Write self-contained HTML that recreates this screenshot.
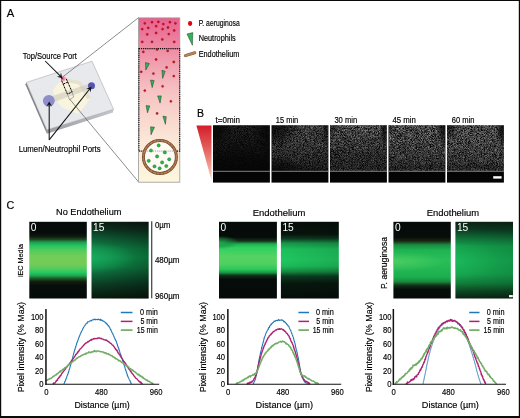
<!DOCTYPE html>
<html><head><meta charset="utf-8"><title>Figure</title>
<style>
html,body{margin:0;padding:0;background:#fff;}
body{width:520px;height:418px;overflow:hidden;position:relative;font-family:"Liberation Sans",sans-serif;}
svg{position:absolute;left:0;top:0;display:block;will-change:transform;}
svg text{font-family:"Liberation Sans",sans-serif;}
</style></head><body>
<svg width="520" height="418" viewBox="0 0 520 418">
<defs>
<linearGradient id="sb" x1="0" y1="0" x2="1" y2="0"><stop offset="0" stop-color="#9b9da2"/><stop offset="1" stop-color="#c4c6ca"/></linearGradient>
<radialGradient id="pk" cx="0.4" cy="0.45" r="0.6"><stop offset="0" stop-color="#e8507c"/><stop offset="0.5" stop-color="#f28ca8"/><stop offset="1" stop-color="#f9c4d2" stop-opacity="0.6"/></radialGradient>
<linearGradient id="colg" x1="0" y1="0" x2="0" y2="1"><stop offset="0" stop-color="#e9608f"/><stop offset="0.2" stop-color="#ee8fa6"/><stop offset="0.45" stop-color="#f6c3c3"/><stop offset="0.75" stop-color="#fbe8d8"/><stop offset="1" stop-color="#fdf6dc"/></linearGradient>
<linearGradient id="trg" x1="0" y1="0" x2="0" y2="1"><stop offset="0" stop-color="#d31d2b"/><stop offset="0.45" stop-color="#e5655f"/><stop offset="0.8" stop-color="#f3aaa0"/><stop offset="1" stop-color="#fbdad3"/></linearGradient>
<filter id="spk" x="0" y="0" width="100%" height="100%" color-interpolation-filters="sRGB"><feTurbulence type="fractalNoise" baseFrequency="1.37" numOctaves="2" seed="11" result="n"/><feColorMatrix type="matrix" values="0 0 0 0 1  0 0 0 0 1  0 0 0 0 1  1.3 0 0 0 -0.32"/><feGaussianBlur stdDeviation="0.4"/></filter>
<linearGradient id="bg0" x1="0" y1="0" x2="0" y2="1"><stop offset="0" stop-color="#fff" stop-opacity="0.26"/><stop offset="0.35" stop-color="#fff" stop-opacity="0.18"/><stop offset="0.7" stop-color="#fff" stop-opacity="0.07"/><stop offset="1" stop-color="#fff" stop-opacity="0.03"/></linearGradient>
<radialGradient id="bb0_0"><stop offset="0" stop-color="#000" stop-opacity="0.8"/><stop offset="0.5" stop-color="#000" stop-opacity="0.56"/><stop offset="1" stop-color="#000" stop-opacity="0"/></radialGradient>
<radialGradient id="bb0_1"><stop offset="0" stop-color="#000" stop-opacity="0.7"/><stop offset="0.5" stop-color="#000" stop-opacity="0.49"/><stop offset="1" stop-color="#000" stop-opacity="0"/></radialGradient>
<linearGradient id="bg1" x1="0" y1="0" x2="0" y2="1"><stop offset="0" stop-color="#fff" stop-opacity="0.62"/><stop offset="0.4" stop-color="#fff" stop-opacity="0.55"/><stop offset="0.8" stop-color="#fff" stop-opacity="0.36"/><stop offset="1" stop-color="#fff" stop-opacity="0.22"/></linearGradient>
<radialGradient id="bb1_0"><stop offset="0" stop-color="#000" stop-opacity="0.85"/><stop offset="0.5" stop-color="#000" stop-opacity="0.59"/><stop offset="1" stop-color="#000" stop-opacity="0"/></radialGradient>
<radialGradient id="bb1_1"><stop offset="0" stop-color="#000" stop-opacity="0.7"/><stop offset="0.5" stop-color="#000" stop-opacity="0.49"/><stop offset="1" stop-color="#000" stop-opacity="0"/></radialGradient>
<radialGradient id="bb1_2"><stop offset="0" stop-color="#000" stop-opacity="0.7"/><stop offset="0.5" stop-color="#000" stop-opacity="0.49"/><stop offset="1" stop-color="#000" stop-opacity="0"/></radialGradient>
<linearGradient id="bg2" x1="0" y1="0" x2="0" y2="1"><stop offset="0" stop-color="#fff" stop-opacity="0.82"/><stop offset="0.35" stop-color="#fff" stop-opacity="0.62"/><stop offset="0.7" stop-color="#fff" stop-opacity="0.42"/><stop offset="0.93" stop-color="#fff" stop-opacity="0.36"/><stop offset="1" stop-color="#fff" stop-opacity="0.42"/></linearGradient>
<radialGradient id="bb2_0"><stop offset="0" stop-color="#000" stop-opacity="0.5"/><stop offset="0.5" stop-color="#000" stop-opacity="0.35"/><stop offset="1" stop-color="#000" stop-opacity="0"/></radialGradient>
<radialGradient id="bb2_1"><stop offset="0" stop-color="#000" stop-opacity="0.75"/><stop offset="0.5" stop-color="#000" stop-opacity="0.52"/><stop offset="1" stop-color="#000" stop-opacity="0"/></radialGradient>
<linearGradient id="bg3" x1="0" y1="0" x2="0" y2="1"><stop offset="0" stop-color="#fff" stop-opacity="0.8"/><stop offset="0.4" stop-color="#fff" stop-opacity="0.68"/><stop offset="0.8" stop-color="#fff" stop-opacity="0.5"/><stop offset="0.94" stop-color="#fff" stop-opacity="0.34"/><stop offset="1" stop-color="#fff" stop-opacity="0.55"/></linearGradient>
<radialGradient id="bb3_0"><stop offset="0" stop-color="#000" stop-opacity="0.85"/><stop offset="0.5" stop-color="#000" stop-opacity="0.59"/><stop offset="1" stop-color="#000" stop-opacity="0"/></radialGradient>
<radialGradient id="bb3_1"><stop offset="0" stop-color="#000" stop-opacity="0.4"/><stop offset="0.5" stop-color="#000" stop-opacity="0.28"/><stop offset="1" stop-color="#000" stop-opacity="0"/></radialGradient>
<linearGradient id="bg4" x1="0" y1="0" x2="0" y2="1"><stop offset="0" stop-color="#fff" stop-opacity="0.8"/><stop offset="0.4" stop-color="#fff" stop-opacity="0.72"/><stop offset="0.8" stop-color="#fff" stop-opacity="0.54"/><stop offset="0.94" stop-color="#fff" stop-opacity="0.36"/><stop offset="1" stop-color="#fff" stop-opacity="0.6"/></linearGradient>
<radialGradient id="bb4_0"><stop offset="0" stop-color="#000" stop-opacity="0.85"/><stop offset="0.5" stop-color="#000" stop-opacity="0.59"/><stop offset="1" stop-color="#000" stop-opacity="0"/></radialGradient>
<radialGradient id="bb4_1"><stop offset="0" stop-color="#000" stop-opacity="0.6"/><stop offset="0.5" stop-color="#000" stop-opacity="0.42"/><stop offset="1" stop-color="#000" stop-opacity="0"/></radialGradient>
<linearGradient id="c0" x1="0" y1="0" x2="0" y2="1"><stop offset="0" stop-color="#040b09"/><stop offset="0.14" stop-color="#050c0a"/><stop offset="0.19" stop-color="#10180e"/><stop offset="0.23" stop-color="#1a4a22"/><stop offset="0.265" stop-color="#1f9a4c"/><stop offset="0.31" stop-color="#22c462"/><stop offset="0.36" stop-color="#4ccb5c"/><stop offset="0.44" stop-color="#70cd58"/><stop offset="0.55" stop-color="#74cc56"/><stop offset="0.61" stop-color="#52cc5c"/><stop offset="0.66" stop-color="#26c862"/><stop offset="0.7" stop-color="#1fa850"/><stop offset="0.74" stop-color="#1c5a26"/><stop offset="0.78" stop-color="#121c0e"/><stop offset="0.83" stop-color="#060e0a"/><stop offset="1" stop-color="#040b09"/></linearGradient>
<linearGradient id="c1" x1="0" y1="0" x2="0" y2="1"><stop offset="0" stop-color="#0b1e12"/><stop offset="0.1" stop-color="#0d3420"/><stop offset="0.22" stop-color="#0f5e36"/><stop offset="0.35" stop-color="#108c4a"/><stop offset="0.47" stop-color="#119c50"/><stop offset="0.58" stop-color="#0f8a48"/><stop offset="0.7" stop-color="#0e6238"/><stop offset="0.82" stop-color="#0c3e24"/><stop offset="0.92" stop-color="#0a2816"/><stop offset="1" stop-color="#081a0c"/></linearGradient>
<linearGradient id="c2" x1="0" y1="0" x2="0" y2="1"><stop offset="0" stop-color="#040b09"/><stop offset="0.2" stop-color="#050c09"/><stop offset="0.25" stop-color="#16301a"/><stop offset="0.29" stop-color="#1fb050"/><stop offset="0.34" stop-color="#2fd060"/><stop offset="0.45" stop-color="#55d262"/><stop offset="0.55" stop-color="#50d060"/><stop offset="0.62" stop-color="#28c858"/><stop offset="0.66" stop-color="#1a9a44"/><stop offset="0.7" stop-color="#10301a"/><stop offset="0.75" stop-color="#050c09"/><stop offset="1" stop-color="#040b09"/></linearGradient>
<linearGradient id="c3" x1="0" y1="0" x2="0" y2="1"><stop offset="0" stop-color="#050e09"/><stop offset="0.16" stop-color="#07140c"/><stop offset="0.22" stop-color="#0d3a20"/><stop offset="0.28" stop-color="#169648"/><stop offset="0.36" stop-color="#1dc05c"/><stop offset="0.5" stop-color="#20c660"/><stop offset="0.58" stop-color="#1cba58"/><stop offset="0.65" stop-color="#148a40"/><stop offset="0.71" stop-color="#0b3c20"/><stop offset="0.8" stop-color="#07180e"/><stop offset="1" stop-color="#040d08"/></linearGradient>
<linearGradient id="c4" x1="0" y1="0" x2="0" y2="1"><stop offset="0" stop-color="#040b09"/><stop offset="0.2" stop-color="#060d0a"/><stop offset="0.25" stop-color="#1a2812"/><stop offset="0.3" stop-color="#1a8a40"/><stop offset="0.37" stop-color="#1eb452"/><stop offset="0.5" stop-color="#2abe58"/><stop offset="0.6" stop-color="#24b854"/><stop offset="0.72" stop-color="#1cae4e"/><stop offset="0.78" stop-color="#188a3e"/><stop offset="0.83" stop-color="#142e18"/><stop offset="0.88" stop-color="#060e0a"/><stop offset="1" stop-color="#040b09"/></linearGradient>
<linearGradient id="c5" x1="0" y1="0" x2="0" y2="1"><stop offset="0" stop-color="#0a2414"/><stop offset="0.1" stop-color="#0c3a20"/><stop offset="0.22" stop-color="#10743a"/><stop offset="0.32" stop-color="#14a04c"/><stop offset="0.5" stop-color="#16ae52"/><stop offset="0.68" stop-color="#15a44e"/><stop offset="0.8" stop-color="#11803c"/><stop offset="0.9" stop-color="#0c4a24"/><stop offset="1" stop-color="#092412"/></linearGradient>
<linearGradient id="dk" x1="0" y1="0" x2="1" y2="0"><stop offset="0" stop-color="#000" stop-opacity="0"/><stop offset="1" stop-color="#000" stop-opacity="0.32"/></linearGradient>
<radialGradient id="gl1" cx="0" cy="0" r="1" gradientTransform="translate(0.02 0.47) scale(0.75 0.2)"><stop offset="0" stop-color="#1cb868" stop-opacity="0.5"/><stop offset="1" stop-color="#20c070" stop-opacity="0"/></radialGradient>
<radialGradient id="gl3" cx="0" cy="0" r="1" gradientTransform="translate(0.0 0.27) scale(0.35 0.09)"><stop offset="0" stop-color="#20b050" stop-opacity="0.9"/><stop offset="0.6" stop-color="#1a9044" stop-opacity="0.5"/><stop offset="1" stop-color="#1a9044" stop-opacity="0"/></radialGradient>
<radialGradient id="gl5" cx="0" cy="0" r="1" gradientTransform="translate(0.0 0.52) scale(0.9 0.13)"><stop offset="0" stop-color="#58d468" stop-opacity="0.7"/><stop offset="1" stop-color="#58d468" stop-opacity="0"/></radialGradient>
<radialGradient id="gl6" cx="0" cy="0" r="1" gradientTransform="translate(0.05 0.52) scale(0.8 0.25)"><stop offset="0" stop-color="#20c060" stop-opacity="0.5"/><stop offset="1" stop-color="#20c060" stop-opacity="0"/></radialGradient>
</defs>
<rect x="0" y="0" width="520" height="418" fill="#fff"/>
<g id="A">
<text x="6.8" y="16.9" font-size="11.2" fill="#000" stroke="#000" stroke-width="0.16">A</text>
<polygon points="26.4,82.4 46.9,129.8 46.9,133.70000000000002 25.4,84.60000000000001" fill="#808287"/>
<polygon points="46.9,129.8 113.6,109.3 113.0,112.60000000000001 46.9,133.70000000000002" fill="url(#sb)"/>
<polygon points="26.4,82.4 92.0,61.2 113.6,109.3 46.9,129.8" fill="#e8e9ed" stroke="#9a9ca2" stroke-width="0.5"/>
<polygon points="52.7,90.6 58.5,82.9 66.8,78.6 80.2,80.9 86.3,89.8 91.0,97.6 83.5,107.7 77.9,114.0 61.3,107.1 54.6,98.1" fill="#f9f4dd"/>
<polygon points="66.8,78.6 80.2,80.9 86.3,89.8 91.0,97.6 87.2,99.6 83.0,91.5 78.5,84.3 66.5,82.0" fill="#dedacb" opacity="0.75"/>
<polygon points="51.0,96.6 91.0,82.9 92.2,88.2 52.4,102.6" fill="#cdcabd" opacity="0.6"/>
<circle cx="48.8" cy="100.8" r="5.9" fill="#8686c8" opacity="0.92"/>
<circle cx="91.5" cy="85.8" r="3.5" fill="#5656ae"/>
<ellipse cx="63.5" cy="78.9" rx="2.6" ry="2.8" fill="url(#pk)"/>
<circle cx="61.9" cy="78.5" r="0.9" fill="#7a1030"/>
<path d="M61.6,80.6 L67.4,94.1 L72.1,92.0 L66.2,78.6 M63.2,84.1 L67.9,82.0" fill="none" stroke="#000" stroke-width="1.0" stroke-dasharray="2.3,0.9"/>
<path d="M67.4,94.1 L69.5,99.6 L73.7,97.0 L72.1,92.0" fill="none" stroke="#666" stroke-width="0.5"/>
<line x1="62.4" y1="77.2" x2="138.6" y2="17.6" stroke="#666" stroke-width="0.75"/>
<line x1="69.5" y1="98.9" x2="138.6" y2="182.0" stroke="#666" stroke-width="0.75"/>
<line x1="45.2" y1="61.0" x2="60.42" y2="76.22" stroke="#111" stroke-width="1.05"/>
<polygon points="62.40,78.20 56.81,76.72 60.28,76.08 60.92,72.61" fill="#111"/>
<line x1="49.2" y1="139.8" x2="49.20" y2="104.40" stroke="#111" stroke-width="1.05"/>
<polygon points="49.20,101.60 52.10,106.60 49.20,104.60 46.30,106.60" fill="#111"/>
<line x1="49.2" y1="139.8" x2="89.66" y2="88.99" stroke="#111" stroke-width="1.05"/>
<polygon points="91.40,86.80 90.55,92.52 89.53,89.15 86.02,88.91" fill="#111"/>
<text x="22.7" y="58.8" font-size="8.8" textLength="54.2" lengthAdjust="spacingAndGlyphs" fill="#000" stroke="#000" stroke-width="0.16">Top/Source Port</text>
<text x="18.7" y="151.6" font-size="8.8" textLength="82.0" lengthAdjust="spacingAndGlyphs" fill="#000" stroke="#000" stroke-width="0.16">Lumen/Neutrophil Ports</text>
<rect x="138.6" y="17.9" width="41.2" height="164.3" fill="url(#colg)" stroke="#9a9a9a" stroke-width="0.8"/>
<rect x="138.9" y="48.6" width="40.8" height="102.5" fill="none" stroke="#000" stroke-width="1.05" stroke-dasharray="1.15,0.95"/>
<circle cx="144.8" cy="23.3" r="1.15" fill="#d0101c" stroke="#8a0a14" stroke-width="0.3"/>
<circle cx="152.0" cy="22.2" r="1.15" fill="#d0101c" stroke="#8a0a14" stroke-width="0.3"/>
<circle cx="158.3" cy="21.9" r="1.15" fill="#d0101c" stroke="#8a0a14" stroke-width="0.3"/>
<circle cx="163.3" cy="24.1" r="1.15" fill="#d0101c" stroke="#8a0a14" stroke-width="0.3"/>
<circle cx="169.9" cy="22.2" r="1.15" fill="#d0101c" stroke="#8a0a14" stroke-width="0.3"/>
<circle cx="175.4" cy="23.3" r="1.15" fill="#d0101c" stroke="#8a0a14" stroke-width="0.3"/>
<circle cx="142.2" cy="29.1" r="1.15" fill="#d0101c" stroke="#8a0a14" stroke-width="0.3"/>
<circle cx="148.2" cy="27.9" r="1.15" fill="#d0101c" stroke="#8a0a14" stroke-width="0.3"/>
<circle cx="156.1" cy="26.2" r="1.15" fill="#d0101c" stroke="#8a0a14" stroke-width="0.3"/>
<circle cx="162.6" cy="29.1" r="1.15" fill="#d0101c" stroke="#8a0a14" stroke-width="0.3"/>
<circle cx="168.0" cy="27.5" r="1.15" fill="#d0101c" stroke="#8a0a14" stroke-width="0.3"/>
<circle cx="174.2" cy="30.5" r="1.15" fill="#d0101c" stroke="#8a0a14" stroke-width="0.3"/>
<circle cx="147.2" cy="34.4" r="1.15" fill="#d0101c" stroke="#8a0a14" stroke-width="0.3"/>
<circle cx="156.1" cy="33.0" r="1.15" fill="#d0101c" stroke="#8a0a14" stroke-width="0.3"/>
<circle cx="168.8" cy="34.1" r="1.15" fill="#d0101c" stroke="#8a0a14" stroke-width="0.3"/>
<circle cx="142.2" cy="41.9" r="1.15" fill="#d0101c" stroke="#8a0a14" stroke-width="0.3"/>
<circle cx="152.0" cy="41.9" r="1.15" fill="#d0101c" stroke="#8a0a14" stroke-width="0.3"/>
<circle cx="162.3" cy="39.4" r="1.15" fill="#d0101c" stroke="#8a0a14" stroke-width="0.3"/>
<circle cx="174.2" cy="41.9" r="1.15" fill="#d0101c" stroke="#8a0a14" stroke-width="0.3"/>
<circle cx="143.3" cy="51.9" r="1.15" fill="#d0101c" stroke="#8a0a14" stroke-width="0.3"/>
<circle cx="157.1" cy="49.5" r="1.15" fill="#d0101c" stroke="#8a0a14" stroke-width="0.3"/>
<circle cx="167.7" cy="50.9" r="1.15" fill="#d0101c" stroke="#8a0a14" stroke-width="0.3"/>
<circle cx="156.1" cy="59.5" r="1.15" fill="#d0101c" stroke="#8a0a14" stroke-width="0.3"/>
<circle cx="173.8" cy="62.0" r="1.15" fill="#d0101c" stroke="#8a0a14" stroke-width="0.3"/>
<circle cx="166.6" cy="67.4" r="1.15" fill="#d0101c" stroke="#8a0a14" stroke-width="0.3"/>
<circle cx="141.2" cy="71.8" r="1.15" fill="#d0101c" stroke="#8a0a14" stroke-width="0.3"/>
<circle cx="153.4" cy="73.6" r="1.15" fill="#d0101c" stroke="#8a0a14" stroke-width="0.3"/>
<circle cx="173.8" cy="76.1" r="1.15" fill="#d0101c" stroke="#8a0a14" stroke-width="0.3"/>
<circle cx="162.6" cy="86.3" r="1.15" fill="#d0101c" stroke="#8a0a14" stroke-width="0.3"/>
<circle cx="144.8" cy="90.6" r="1.15" fill="#d0101c" stroke="#8a0a14" stroke-width="0.3"/>
<circle cx="170.9" cy="101.3" r="1.15" fill="#d0101c" stroke="#8a0a14" stroke-width="0.3"/>
<circle cx="157.1" cy="113.4" r="1.15" fill="#d0101c" stroke="#8a0a14" stroke-width="0.3"/>
<polygon points="145.5,62.6 149.4,63.6 145.8,70.0" fill="#2fb457" stroke="#1c3a24" stroke-width="0.5" stroke-linejoin="round"/>
<polygon points="161.9,70.3 165.2,71.2 162.7,78.4" fill="#2fb457" stroke="#1c3a24" stroke-width="0.5" stroke-linejoin="round"/>
<polygon points="150.5,80.1 154.1,80.5 152.2,87.6" fill="#2fb457" stroke="#1c3a24" stroke-width="0.5" stroke-linejoin="round"/>
<polygon points="157.6,95.9 161.3,95.9 160.1,103.1" fill="#2fb457" stroke="#1c3a24" stroke-width="0.5" stroke-linejoin="round"/>
<polygon points="146.1,105.6 149.8,105.9 147.5,112.8" fill="#2fb457" stroke="#1c3a24" stroke-width="0.5" stroke-linejoin="round"/>
<polygon points="162.9,116.1 166.3,116.7 165.4,124.3" fill="#2fb457" stroke="#1c3a24" stroke-width="0.5" stroke-linejoin="round"/>
<polygon points="150.6,126.8 154.5,127.2 151.0,134.8" fill="#2fb457" stroke="#1c3a24" stroke-width="0.5" stroke-linejoin="round"/>
<circle cx="159.9" cy="157.0" r="16.5" fill="#fdfbf4" stroke="#74482a" stroke-width="3.0"/>
<circle cx="159.9" cy="157.0" r="16.5" fill="none" stroke="#b37d54" stroke-width="1.7" stroke-dasharray="3.2,0.5"/>
<line x1="144.5" y1="151.1" x2="175.2" y2="151.1" stroke="#999" stroke-width="0.9" stroke-dasharray="1.15,0.95"/>
<circle cx="158.7" cy="145.4" r="1.6" fill="#27b944" stroke="#1c6a2c" stroke-width="0.45"/>
<circle cx="151" cy="150.5" r="1.6" fill="#27b944" stroke="#1c6a2c" stroke-width="0.45"/>
<circle cx="164.8" cy="152.4" r="1.6" fill="#27b944" stroke="#1c6a2c" stroke-width="0.45"/>
<circle cx="157.1" cy="156.4" r="1.6" fill="#27b944" stroke="#1c6a2c" stroke-width="0.45"/>
<circle cx="148.7" cy="160.8" r="1.6" fill="#27b944" stroke="#1c6a2c" stroke-width="0.45"/>
<circle cx="169.2" cy="159.3" r="1.6" fill="#27b944" stroke="#1c6a2c" stroke-width="0.45"/>
<circle cx="162.1" cy="162.4" r="1.6" fill="#27b944" stroke="#1c6a2c" stroke-width="0.45"/>
<circle cx="154.5" cy="166.4" r="1.6" fill="#27b944" stroke="#1c6a2c" stroke-width="0.45"/>
<circle cx="166.3" cy="166" r="1.6" fill="#27b944" stroke="#1c6a2c" stroke-width="0.45"/>
<circle cx="159.6" cy="168.3" r="1.6" fill="#27b944" stroke="#1c6a2c" stroke-width="0.45"/>
<ellipse cx="190.1" cy="23.5" rx="2.1" ry="2.45" fill="#e3000f"/>
<polygon points="187.0,34.0 192.8,32.6 192.4,45.3" fill="#2fb457" stroke="#1c3a24" stroke-width="0.5" stroke-linejoin="round"/>
<line x1="185.4" y1="55.6" x2="194.8" y2="52.7" stroke="#8a5a34" stroke-width="3.0" stroke-linecap="round"/>
<line x1="185.4" y1="55.6" x2="194.8" y2="52.7" stroke="#b98458" stroke-width="2.0" stroke-linecap="round"/>
<text x="198.7" y="25.9" font-size="8.6" textLength="41.0" lengthAdjust="spacingAndGlyphs" fill="#000" stroke="#000" stroke-width="0.16">P. aeruginosa</text>
<text x="198.7" y="41.2" font-size="8.6" textLength="37.0" lengthAdjust="spacingAndGlyphs" fill="#000" stroke="#000" stroke-width="0.16">Neutrophils</text>
<text x="198.7" y="56.7" font-size="8.6" textLength="40.6" lengthAdjust="spacingAndGlyphs" fill="#000" stroke="#000" stroke-width="0.16">Endothelium</text>
</g>
<g id="B">
<text x="197.0" y="117.4" font-size="10.5" fill="#000" stroke="#000" stroke-width="0.16">B</text>
<polygon points="196.4,125.4 211.5,125.4 211.5,180.6" fill="url(#trg)"/>
<rect x="213.00" y="125.2" width="56.9" height="57.4" fill="#040404"/>
<mask id="bm0" maskUnits="userSpaceOnUse" x="213.00" y="125.2" width="56.9" height="45.6"><rect x="213.00" y="125.2" width="56.9" height="45.6" fill="url(#bg0)"/><ellipse cx="213.0" cy="125.2" rx="19.9" ry="22.8" fill="url(#bb0_0)"/><ellipse cx="269.9" cy="129.8" rx="17.1" ry="27.4" fill="url(#bb0_1)"/></mask>
<g mask="url(#bm0)"><rect x="213.00" y="125.2" width="56.9" height="45.6" filter="url(#spk)"/></g>
<line x1="213.00" y1="171.3" x2="269.90" y2="171.3" stroke="#b8b8b8" stroke-width="0.7"/>
<text x="215.5" y="123.0" font-size="8.4" textLength="24.4" lengthAdjust="spacingAndGlyphs" fill="#000" stroke="#000" stroke-width="0.16">t=0min</text>
<rect x="271.50" y="125.2" width="56.9" height="57.4" fill="#040404"/>
<mask id="bm1" maskUnits="userSpaceOnUse" x="271.50" y="125.2" width="56.9" height="45.6"><rect x="271.50" y="125.2" width="56.9" height="45.6" fill="url(#bg1)"/><ellipse cx="271.5" cy="125.2" rx="28.4" ry="25.1" fill="url(#bb1_0)"/><ellipse cx="271.5" cy="170.8" rx="34.1" ry="16.0" fill="url(#bb1_1)"/><ellipse cx="326.1" cy="127.5" rx="4.0" ry="20.5" fill="url(#bb1_2)"/></mask>
<g mask="url(#bm1)"><rect x="271.50" y="125.2" width="56.9" height="45.6" filter="url(#spk)"/></g>
<line x1="271.50" y1="171.3" x2="328.40" y2="171.3" stroke="#b8b8b8" stroke-width="0.7"/>
<text x="275.8" y="123.0" font-size="8.4" textLength="22.4" lengthAdjust="spacingAndGlyphs" fill="#000" stroke="#000" stroke-width="0.16">15 min</text>
<rect x="330.00" y="125.2" width="56.9" height="57.4" fill="#040404"/>
<mask id="bm2" maskUnits="userSpaceOnUse" x="330.00" y="125.2" width="56.9" height="45.6"><rect x="330.00" y="125.2" width="56.9" height="45.6" fill="url(#bg2)"/><ellipse cx="330.0" cy="125.2" rx="11.4" ry="16.0" fill="url(#bb2_0)"/><ellipse cx="384.1" cy="127.5" rx="4.0" ry="22.8" fill="url(#bb2_1)"/></mask>
<g mask="url(#bm2)"><rect x="330.00" y="125.2" width="56.9" height="45.6" filter="url(#spk)"/></g>
<line x1="330.00" y1="171.3" x2="386.90" y2="171.3" stroke="#b8b8b8" stroke-width="0.7"/>
<text x="334.4" y="123.0" font-size="8.4" textLength="22.8" lengthAdjust="spacingAndGlyphs" fill="#000" stroke="#000" stroke-width="0.16">30 min</text>
<rect x="388.50" y="125.2" width="56.9" height="57.4" fill="#040404"/>
<mask id="bm3" maskUnits="userSpaceOnUse" x="388.50" y="125.2" width="56.9" height="45.6"><rect x="388.50" y="125.2" width="56.9" height="45.6" fill="url(#bg3)"/><ellipse cx="445.4" cy="125.2" rx="9.1" ry="25.1" fill="url(#bb3_0)"/><ellipse cx="388.5" cy="125.2" rx="6.8" ry="13.7" fill="url(#bb3_1)"/></mask>
<g mask="url(#bm3)"><rect x="388.50" y="125.2" width="56.9" height="45.6" filter="url(#spk)"/></g>
<line x1="388.50" y1="171.3" x2="445.40" y2="171.3" stroke="#b8b8b8" stroke-width="0.7"/>
<text x="392.4" y="123.0" font-size="8.4" textLength="23.4" lengthAdjust="spacingAndGlyphs" fill="#000" stroke="#000" stroke-width="0.16">45 min</text>
<rect x="447.00" y="125.2" width="56.9" height="57.4" fill="#040404"/>
<mask id="bm4" maskUnits="userSpaceOnUse" x="447.00" y="125.2" width="56.9" height="45.6"><rect x="447.00" y="125.2" width="56.9" height="45.6" fill="url(#bg4)"/><ellipse cx="503.9" cy="125.2" rx="9.1" ry="25.1" fill="url(#bb4_0)"/><ellipse cx="447.0" cy="125.2" rx="11.4" ry="18.2" fill="url(#bb4_1)"/></mask>
<g mask="url(#bm4)"><rect x="447.00" y="125.2" width="56.9" height="45.6" filter="url(#spk)"/></g>
<line x1="447.00" y1="171.3" x2="503.90" y2="171.3" stroke="#b8b8b8" stroke-width="0.7"/>
<text x="451.8" y="123.0" font-size="8.4" textLength="22.8" lengthAdjust="spacingAndGlyphs" fill="#000" stroke="#000" stroke-width="0.16">60 min</text>
<rect x="493.2" y="176.2" width="8.4" height="2.4" fill="#fff"/>
</g>
<g id="C">
<text x="6.6" y="209.0" font-size="10.8" fill="#000" stroke="#000" stroke-width="0.16">C</text>
<rect x="29.3" y="221.8" width="57.5" height="76.7" fill="url(#c0)"/>
<rect x="91.5" y="221.8" width="57.1" height="76.7" fill="url(#c1)"/>
<rect x="219.0" y="221.8" width="57.9" height="76.7" fill="url(#c2)"/>
<rect x="280.9" y="221.8" width="57.9" height="76.7" fill="url(#c3)"/>
<rect x="393.4" y="221.8" width="57.4" height="76.7" fill="url(#c4)"/>
<rect x="455.4" y="221.8" width="57.6" height="76.7" fill="url(#c5)"/>
<rect x="91.5" y="221.8" width="57.1" height="76.7" fill="url(#dk)"/>
<rect x="91.5" y="221.8" width="57.1" height="76.7" fill="url(#gl1)"/>
<rect x="219.0" y="221.8" width="57.9" height="76.7" fill="url(#gl3)"/>
<rect x="393.4" y="221.8" width="57.4" height="76.7" fill="url(#gl5)"/>
<rect x="455.4" y="221.8" width="57.6" height="76.7" fill="url(#gl6)"/>
<rect x="455.4" y="221.8" width="57.6" height="76.7" fill="url(#dk)" opacity="0.4"/>
<rect x="280.9" y="221.8" width="57.9" height="76.7" fill="url(#dk)" opacity="0.35"/>
<text x="30.8" y="231.1" font-size="10.2" fill="#fff">0</text>
<text x="93.0" y="231.1" font-size="10.2" fill="#fff">15</text>
<text x="220.5" y="231.1" font-size="10.2" fill="#fff">0</text>
<text x="282.4" y="231.1" font-size="10.2" fill="#fff">15</text>
<text x="394.9" y="231.1" font-size="10.2" fill="#fff">0</text>
<text x="456.9" y="231.1" font-size="10.2" fill="#fff">15</text>
<line x1="151.7" y1="221.3" x2="151.7" y2="298.2" stroke="#4a4a4a" stroke-width="1.3"/>
<text x="154.9" y="227.8" font-size="8.3" textLength="15.4" lengthAdjust="spacingAndGlyphs" fill="#000" stroke="#000" stroke-width="0.16">0µm</text>
<text x="154.9" y="263.4" font-size="8.3" textLength="24.6" lengthAdjust="spacingAndGlyphs" fill="#000" stroke="#000" stroke-width="0.16">480µm</text>
<text x="154.9" y="298.8" font-size="8.3" textLength="24.6" lengthAdjust="spacingAndGlyphs" fill="#000" stroke="#000" stroke-width="0.16">960µm</text>
<text x="56.0" y="215.2" font-size="9.2" textLength="65.4" lengthAdjust="spacingAndGlyphs" fill="#000" stroke="#000" stroke-width="0.16">No Endothelium</text>
<text x="252.7" y="215.9" font-size="9.3" textLength="52.6" lengthAdjust="spacingAndGlyphs" fill="#000" stroke="#000" stroke-width="0.16">Endothelium</text>
<text x="426.8" y="215.9" font-size="9.3" textLength="52.3" lengthAdjust="spacingAndGlyphs" fill="#000" stroke="#000" stroke-width="0.16">Endothelium</text>
<text x="23.1" y="260.5" font-size="7.4" text-anchor="middle" textLength="33.2" lengthAdjust="spacingAndGlyphs" transform="rotate(-90 23.1 260.5)" fill="#000" stroke="#000" stroke-width="0.16">iEC Media</text>
<text x="387.2" y="263.0" font-size="9.2" text-anchor="middle" textLength="52" lengthAdjust="spacingAndGlyphs" transform="rotate(-90 387.2 263.0)" fill="#000" stroke="#000" stroke-width="0.16">P. aeruginosa</text>
<rect x="509.0" y="295.1" width="3.8" height="2.1" fill="#fff"/>
</g>
<g>
<path d="M64.0,383.7L64.1,383.4L64.2,383.3L64.4,382.9L64.5,382.5L64.6,382.0L64.8,381.8L65.0,381.8L65.1,381.2L65.3,380.9L65.5,380.2L65.7,379.8L65.9,379.3L66.1,378.3L66.3,378.5L66.5,377.9L66.7,377.4L66.9,376.3L67.1,375.8L67.3,375.5L67.5,375.1L67.6,374.8L67.8,374.3L67.9,374.1L68.0,373.4L68.2,373.2L68.3,372.8L68.4,372.1L68.6,372.3L68.7,371.5L68.8,371.3L69.0,370.4L69.1,369.9L69.2,369.6L69.4,369.2L69.5,368.9L69.6,368.3L69.8,367.7L69.9,367.1L70.0,366.8L70.2,366.7L70.3,365.8L70.4,365.6L70.6,365.1L70.7,364.2L70.8,364.1L71.0,364.0L71.1,362.7L71.2,362.6L71.4,362.2L71.5,361.6L71.6,361.5L71.7,361.0L71.9,360.2L72.0,360.3L72.1,359.8L72.2,359.4L72.3,359.1L72.5,358.4L72.6,357.9L72.7,357.1L72.8,357.1L72.9,356.3L73.1,355.9L73.2,355.2L73.3,354.9L73.4,354.5L73.5,354.5L73.7,353.2L73.8,352.9L73.9,352.9L74.0,352.8L74.1,352.1L74.3,351.1L74.4,350.5L74.5,350.8L74.6,350.1L74.7,349.6L74.9,349.7L75.0,349.3L75.1,348.6L75.3,348.1L75.4,347.7L75.6,347.5L75.7,346.8L75.9,346.3L76.0,345.9L76.2,344.9L76.3,345.2L76.4,344.7L76.6,344.1L76.7,343.1L76.9,343.0L77.0,342.9L77.2,341.8L77.3,341.8L77.5,341.7L77.6,340.7L77.7,341.0L77.9,340.4L78.0,339.8L78.2,339.5L78.3,339.2L78.5,338.7L78.6,338.5L78.8,337.5L79.0,337.1L79.2,337.0L79.4,336.3L79.5,335.7L79.7,335.7L79.9,335.4L80.1,334.5L80.3,333.8L80.4,333.7L80.6,333.3L80.8,332.8L81.0,332.9L81.2,331.9L81.3,332.0L81.5,331.0L81.7,330.8L81.9,330.8L82.1,330.5L82.3,330.0L82.5,329.4L82.8,328.9L83.0,328.4L83.3,328.1L83.5,327.5L83.8,327.2L84.0,326.8L84.2,326.3L84.5,326.1L84.7,325.7L85.0,325.7L85.2,324.9L85.4,324.4L85.7,324.1L86.0,323.8L86.4,323.7L86.8,323.0L87.1,322.9L87.5,323.0L87.8,321.6L88.2,321.7L88.6,321.8L88.9,321.7L89.3,321.4L89.7,321.0L90.2,321.0L90.6,320.7L91.0,320.3L91.4,320.9L91.9,320.3L92.4,319.9L92.9,319.9L93.3,319.8L93.8,319.7L94.2,319.0L94.7,319.4L95.2,319.8L95.7,319.2L96.2,319.4L96.7,319.6L97.2,319.6L97.7,319.8L98.1,319.0L98.6,319.4L99.0,319.5L99.5,319.8L99.9,320.1L100.4,319.2L100.8,320.3L101.3,319.8L101.7,320.5L102.1,320.1L102.5,320.7L103.0,321.1L103.4,321.0L103.8,321.3L104.2,321.7L104.6,321.8L104.9,322.0L105.3,322.7L105.7,322.9L106.1,323.0L106.4,324.0L106.7,323.3L106.9,324.2L107.2,324.2L107.5,324.6L107.8,325.1L108.0,325.4L108.3,325.9L108.6,325.7L108.9,326.1L109.2,327.1L109.4,327.1L109.7,327.6L109.9,327.8L110.1,328.9L110.3,329.1L110.6,329.7L110.8,329.5L111.0,330.2L111.2,330.3L111.4,331.2L111.6,331.8L111.8,331.7L112.0,332.7L112.3,333.0L112.5,333.2L112.7,333.2L112.9,334.5L113.1,334.6L113.3,334.9L113.5,335.5L113.7,335.9L113.9,336.6L114.0,336.4L114.2,337.3L114.4,337.8L114.6,338.2L114.8,338.2L114.9,338.4L115.1,339.3L115.3,339.5L115.5,339.9L115.7,340.6L115.8,340.7L116.0,340.6L116.2,341.5L116.4,341.6L116.6,342.7L116.7,343.1L116.9,343.3L117.1,343.8L117.2,344.5L117.4,344.7L117.5,345.4L117.6,345.5L117.8,346.2L117.9,346.7L118.1,347.1L118.2,347.0L118.4,347.8L118.5,347.6L118.7,348.2L118.8,348.5L118.9,349.7L119.1,349.5L119.2,350.3L119.4,350.7L119.5,351.2L119.7,351.5L119.8,352.1L120.0,353.0L120.1,353.0L120.2,353.5L120.4,354.1L120.5,354.2L120.7,354.4L120.8,355.0L121.0,355.8L121.1,355.6L121.3,356.3L121.4,357.1L121.5,357.5L121.7,357.7L121.8,358.4L122.0,358.6L122.1,358.7L122.3,359.1L122.4,359.7L122.5,360.6L122.7,360.6L122.8,361.0L123.0,361.4L123.1,361.7L123.3,362.5L123.4,362.6L123.6,363.5L123.7,363.2L123.8,364.3L124.0,364.5L124.1,364.6L124.3,365.7L124.4,365.9L124.6,365.9L124.7,366.6L124.9,367.4L125.0,367.6L125.1,368.4L125.3,368.9L125.4,369.3L125.6,369.7L125.7,370.4L125.9,370.6L126.0,371.0L126.2,370.8L126.3,372.0L126.4,372.6L126.6,372.6L126.7,373.0L126.9,374.0L127.0,373.5L127.2,374.5L127.3,375.4L127.5,374.9L127.6,375.7L127.7,376.4L127.9,376.4L128.1,377.0L128.3,377.6L128.6,377.7L128.8,378.4L129.0,378.9L129.2,379.5L129.4,379.8L129.7,380.2L129.9,380.4L130.1,381.0L130.3,381.8L130.5,381.9L130.7,382.1L130.8,382.4L131.0,383.6L131.1,383.5L131.2,383.6L131.3,383.7" fill="none" stroke="#2277b8" stroke-width="1.1" stroke-linejoin="round" stroke-linecap="round"/>
<path d="M53.2,383.7L53.5,382.9L53.9,383.5L54.4,383.1L54.9,383.0L55.4,382.3L55.6,381.9L55.9,381.7L56.2,380.8L56.4,381.2L56.7,380.7L57.0,380.0L57.3,380.2L57.6,379.9L57.9,378.6L58.3,378.4L58.5,378.3L58.8,377.9L59.0,377.4L59.3,376.9L59.6,377.3L59.8,376.7L60.1,375.8L60.4,375.3L60.7,375.7L61.0,375.1L61.2,374.9L61.5,374.3L61.8,373.4L62.1,373.3L62.4,372.4L62.6,372.4L62.9,372.2L63.2,372.0L63.4,371.3L63.7,371.1L63.9,370.9L64.2,370.5L64.5,370.2L64.8,369.8L65.0,369.3L65.3,369.2L65.6,368.6L65.9,368.0L66.2,367.7L66.4,367.5L66.7,367.1L67.0,366.9L67.3,366.5L67.5,366.2L67.8,365.8L68.1,365.1L68.4,365.2L68.7,365.0L69.0,364.5L69.2,364.0L69.5,363.8L69.8,363.1L70.1,362.5L70.4,362.6L70.7,362.0L71.0,362.1L71.2,361.2L71.5,360.5L71.8,360.5L72.0,360.8L72.3,359.9L72.5,359.3L72.8,359.1L73.0,359.0L73.3,358.6L73.5,358.1L73.8,358.1L74.0,357.5L74.3,356.9L74.5,356.7L74.8,356.5L75.0,356.0L75.3,355.6L75.6,354.7L75.8,354.6L76.1,354.5L76.3,353.8L76.6,353.8L76.9,353.3L77.2,353.0L77.5,352.3L77.8,352.7L78.0,352.0L78.3,351.2L78.6,351.0L78.9,351.2L79.2,350.2L79.5,350.1L79.7,349.8L80.0,349.2L80.3,348.6L80.6,348.6L80.9,348.4L81.2,348.2L81.5,347.8L81.8,347.2L82.1,347.1L82.5,346.7L82.8,346.2L83.1,345.9L83.4,345.5L83.8,345.4L84.1,344.6L84.4,344.4L84.7,344.3L85.0,343.6L85.4,343.6L85.7,343.0L86.1,343.0L86.5,343.0L86.9,342.7L87.3,342.2L87.7,341.9L88.1,341.3L88.5,341.9L88.9,341.3L89.3,341.3L89.7,340.5L90.1,340.5L90.5,339.9L90.9,340.3L91.4,340.2L91.8,339.3L92.3,339.6L92.7,339.6L93.2,338.8L93.6,338.7L94.1,338.7L94.5,338.7L94.9,338.4L95.3,338.7L95.8,338.6L96.3,338.6L96.7,338.5L97.2,338.6L97.6,338.5L98.0,337.8L98.5,338.0L98.9,337.9L99.3,337.9L99.8,338.3L100.2,338.4L100.6,338.6L101.1,338.2L101.5,338.5L102.0,339.0L102.5,339.1L102.9,339.2L103.3,339.4L103.7,339.4L104.2,339.9L104.6,339.9L105.1,340.0L105.5,340.0L106.0,340.3L106.4,339.9L106.9,340.6L107.3,341.1L107.7,340.9L108.0,341.5L108.4,341.8L108.8,341.6L109.2,342.1L109.5,342.4L109.9,342.9L110.3,343.2L110.6,343.3L111.0,343.4L111.4,343.9L111.7,344.3L112.1,344.8L112.4,345.0L112.7,345.1L113.0,345.2L113.2,345.8L113.5,346.0L113.8,346.3L114.1,346.9L114.4,347.1L114.7,347.7L114.9,348.1L115.2,348.3L115.5,349.3L115.8,349.0L116.1,349.8L116.4,349.9L116.6,350.6L116.9,350.1L117.2,350.8L117.4,351.4L117.7,351.9L117.9,352.7L118.2,352.6L118.4,353.2L118.7,353.4L118.9,353.9L119.2,354.1L119.5,354.4L119.7,354.9L120.0,354.9L120.2,355.9L120.5,355.7L120.7,356.4L121.0,357.3L121.2,357.1L121.5,357.5L121.7,358.2L122.0,358.3L122.2,358.4L122.5,359.1L122.7,359.5L123.0,360.0L123.2,360.0L123.5,361.0L123.8,361.3L124.0,361.3L124.3,361.7L124.5,362.0L124.8,362.8L125.0,362.6L125.3,363.4L125.5,363.5L125.8,363.8L126.0,364.5L126.3,365.1L126.5,365.1L126.8,365.3L127.0,366.1L127.3,366.2L127.6,366.7L127.8,367.4L128.1,367.7L128.3,367.7L128.6,368.8L128.8,368.6L129.1,369.2L129.3,369.2L129.6,369.7L129.8,369.7L130.1,370.9L130.3,371.2L130.6,370.9L130.8,371.2L131.1,371.6L131.3,372.6L131.6,372.6L131.9,373.1L132.2,373.4L132.5,373.8L132.7,373.9L133.0,374.5L133.3,374.5L133.5,375.2L133.8,375.7L134.1,376.1L134.4,376.2L134.7,376.4L134.9,377.0L135.2,377.2L135.5,378.0L135.8,378.2L136.2,378.3L136.5,378.5L136.8,378.8L137.2,379.1L137.6,379.7L138.0,380.2L138.4,380.6L138.8,381.0L139.3,381.7L139.7,381.4L140.1,381.9L140.4,382.9L140.8,382.1L141.1,382.7L141.4,383.1L141.7,383.4L142.0,383.6L142.2,383.7" fill="none" stroke="#ad2170" stroke-width="1.35" stroke-linejoin="round" stroke-linecap="round"/>
<path d="M46.0,380.7L46.3,380.5L46.6,380.5L46.9,380.3L47.4,380.3L47.8,379.4L48.3,379.5L48.8,379.4L49.3,378.9L49.8,378.6L50.3,378.8L50.8,378.2L51.2,378.3L51.5,378.1L51.9,377.7L52.2,377.5L52.6,377.1L52.9,376.5L53.3,376.6L53.7,376.4L54.0,375.9L54.4,375.7L54.8,375.7L55.2,375.0L55.6,375.0L56.0,375.1L56.4,374.2L56.8,374.0L57.2,373.7L57.5,373.9L57.9,373.3L58.3,373.2L58.6,372.5L59.0,372.4L59.4,372.1L59.8,371.4L60.2,372.0L60.6,371.5L60.9,370.6L61.3,370.9L61.7,370.4L62.1,370.3L62.5,370.0L62.9,369.2L63.3,369.2L63.7,369.4L64.0,368.6L64.4,368.2L64.8,367.8L65.1,367.5L65.5,367.6L65.8,367.7L66.2,367.0L66.6,366.7L66.9,366.9L67.3,365.9L67.6,365.5L68.0,365.5L68.4,365.2L68.7,364.5L69.1,364.2L69.4,364.2L69.8,363.9L70.2,363.2L70.5,363.2L70.9,362.8L71.2,362.8L71.6,362.4L72.0,362.1L72.4,361.7L72.8,361.8L73.1,361.6L73.5,360.8L73.9,360.8L74.3,360.2L74.7,360.1L75.0,360.0L75.4,359.9L75.8,359.1L76.2,358.9L76.6,358.7L76.9,358.0L77.3,358.2L77.7,357.7L78.1,357.7L78.5,357.1L78.9,356.7L79.3,356.9L79.7,356.7L80.1,356.3L80.5,356.4L80.9,355.9L81.3,355.6L81.7,355.6L82.1,354.9L82.6,354.9L83.0,354.8L83.4,354.8L83.8,354.4L84.2,354.3L84.5,353.9L84.9,354.0L85.3,354.1L85.7,353.4L86.2,353.9L86.7,353.0L87.1,353.0L87.6,352.9L88.1,353.0L88.5,352.3L89.0,351.9L89.4,352.5L89.9,352.4L90.3,352.3L90.8,352.7L91.2,352.0L91.7,351.9L92.1,352.0L92.6,351.8L93.1,352.0L93.5,351.2L94.0,351.3L94.5,350.5L94.9,351.5L95.4,351.2L95.8,351.4L96.3,351.7L96.8,351.1L97.2,351.1L97.7,351.0L98.2,351.0L98.6,351.1L99.1,351.4L99.5,351.4L100.0,351.4L100.5,351.5L100.9,351.8L101.4,351.8L101.9,351.8L102.3,352.1L102.8,352.0L103.2,351.9L103.7,352.7L104.1,352.6L104.5,352.4L105.0,353.0L105.4,353.0L105.8,352.7L106.2,353.6L106.6,353.4L107.1,353.8L107.5,353.8L107.9,353.9L108.3,353.7L108.8,354.5L109.2,354.5L109.7,354.7L110.1,355.0L110.5,355.2L110.8,355.5L111.2,355.5L111.6,355.8L112.0,355.5L112.4,356.2L112.8,356.7L113.2,357.1L113.7,356.9L114.1,357.2L114.5,357.9L114.9,357.7L115.3,358.2L115.7,358.7L116.1,358.6L116.5,359.1L116.9,358.9L117.3,359.4L117.7,359.5L118.1,359.8L118.4,360.3L118.8,360.9L119.2,360.4L119.6,360.6L120.0,361.2L120.3,361.0L120.7,361.7L121.1,361.9L121.5,362.0L121.9,362.4L122.2,362.2L122.6,363.0L123.0,362.7L123.4,363.2L123.8,363.5L124.1,363.8L124.5,364.4L124.9,364.4L125.2,364.6L125.6,365.1L125.9,365.6L126.3,365.5L126.7,365.9L127.0,366.4L127.4,366.4L127.7,366.3L128.1,367.5L128.5,367.7L128.8,367.0L129.2,367.7L129.5,368.1L129.9,368.6L130.3,368.8L130.6,368.8L131.0,368.9L131.3,369.4L131.7,370.0L132.1,369.7L132.5,370.0L132.9,370.6L133.2,370.4L133.6,371.1L134.0,371.3L134.4,371.8L134.8,371.8L135.1,372.0L135.5,372.4L135.9,372.8L136.3,372.9L136.7,373.4L137.0,373.8L137.4,374.2L137.8,374.6L138.2,374.2L138.6,374.6L138.9,374.4L139.3,375.7L139.7,375.3L140.1,375.8L140.5,376.2L140.8,375.9L141.2,376.7L141.6,376.8L142.0,376.6L142.4,377.4L142.7,377.9L143.1,377.3L143.5,378.3L143.9,378.4L144.3,378.7L144.6,378.9L145.0,379.4L145.4,379.2L145.8,379.7L146.2,379.7L146.6,380.2L147.1,380.1L147.5,380.5L148.0,381.3L148.4,381.2L148.9,381.3L149.4,381.4L149.8,381.7L150.3,382.2L150.7,382.6L151.1,382.7L151.5,383.0L151.9,383.1L152.2,383.6L152.5,383.3L152.8,383.4L153.0,383.7" fill="none" stroke="#70ad64" stroke-width="1.5" stroke-linejoin="round" stroke-linecap="round"/>
<line x1="45.95" y1="309.0" x2="45.95" y2="384.79999999999995" stroke="#111" stroke-width="1.5"/>
<line x1="45.2" y1="384.25" x2="159.2" y2="384.25" stroke="#111" stroke-width="1.15"/>
<text x="43.5" y="319.6" font-size="8.8" text-anchor="end" textLength="12.6" lengthAdjust="spacingAndGlyphs" fill="#000" stroke="#000" stroke-width="0.16">100</text>
<text x="43.5" y="333.15000000000003" font-size="8.8" text-anchor="end" textLength="8.5" lengthAdjust="spacingAndGlyphs" fill="#000" stroke="#000" stroke-width="0.16">80</text>
<text x="43.5" y="346.7" font-size="8.8" text-anchor="end" textLength="8.5" lengthAdjust="spacingAndGlyphs" fill="#000" stroke="#000" stroke-width="0.16">60</text>
<text x="43.5" y="360.25" font-size="8.8" text-anchor="end" textLength="8.5" lengthAdjust="spacingAndGlyphs" fill="#000" stroke="#000" stroke-width="0.16">40</text>
<text x="43.5" y="373.8" font-size="8.8" text-anchor="end" textLength="8.5" lengthAdjust="spacingAndGlyphs" fill="#000" stroke="#000" stroke-width="0.16">20</text>
<text x="43.5" y="387.3" font-size="8.8" text-anchor="end" textLength="4.3" lengthAdjust="spacingAndGlyphs" fill="#000" stroke="#000" stroke-width="0.16">0</text>
<text x="46.3" y="394.6" font-size="8.8" text-anchor="middle" textLength="4.3" lengthAdjust="spacingAndGlyphs" fill="#000" stroke="#000" stroke-width="0.16">0</text>
<text x="101.4" y="394.6" font-size="8.8" text-anchor="middle" textLength="12.8" lengthAdjust="spacingAndGlyphs" fill="#000" stroke="#000" stroke-width="0.16">480</text>
<text x="156.2" y="394.6" font-size="8.8" text-anchor="middle" textLength="12.8" lengthAdjust="spacingAndGlyphs" fill="#000" stroke="#000" stroke-width="0.16">960</text>
<text x="74.39999999999999" y="407.6" font-size="9.9" textLength="55.4" lengthAdjust="spacingAndGlyphs" fill="#000" stroke="#000" stroke-width="0.16">Distance (µm)</text>
<text x="23.7" y="347.1" font-size="9.7" text-anchor="middle" textLength="90.4" lengthAdjust="spacingAndGlyphs" transform="rotate(-90 23.7 347.1)" fill="#000" stroke="#000" stroke-width="0.16">Pixel intensity (% Max)</text>
<line x1="120.8" y1="312.5" x2="132.5" y2="312.5" stroke="#2277b8" stroke-width="1.5"/>
<text x="157.79999999999998" y="315.2" font-size="8.3" text-anchor="end" textLength="17.8" lengthAdjust="spacingAndGlyphs" fill="#000" stroke="#000" stroke-width="0.16">0 min</text>
<line x1="120.8" y1="321.4" x2="132.5" y2="321.4" stroke="#ad2170" stroke-width="1.5"/>
<text x="157.79999999999998" y="324.09999999999997" font-size="8.3" text-anchor="end" textLength="17.4" lengthAdjust="spacingAndGlyphs" fill="#000" stroke="#000" stroke-width="0.16">5 min</text>
<line x1="120.8" y1="330.1" x2="132.5" y2="330.1" stroke="#70ad64" stroke-width="1.7"/>
<text x="157.79999999999998" y="332.8" font-size="8.3" text-anchor="end" textLength="21.0" lengthAdjust="spacingAndGlyphs" fill="#000" stroke="#000" stroke-width="0.16">15 min</text>
</g>
<g>
<path d="M253.2,383.7L253.4,383.7L253.5,383.2L253.7,382.8L253.9,382.3L254.1,382.0L254.3,381.8L254.6,381.2L254.8,380.3L255.0,380.2L255.2,379.6L255.3,378.9L255.4,379.0L255.5,378.3L255.6,377.9L255.7,377.8L255.8,377.5L255.9,376.5L256.0,376.4L256.1,375.5L256.2,376.0L256.3,374.7L256.4,374.7L256.5,373.7L256.6,373.6L256.8,373.5L256.9,371.5L256.9,371.8L257.0,371.6L257.1,371.0L257.2,370.4L257.3,370.8L257.3,369.8L257.4,368.8L257.5,369.1L257.6,367.8L257.6,368.2L257.7,367.2L257.8,367.0L257.9,366.8L258.0,366.0L258.0,365.1L258.1,364.5L258.2,364.9L258.3,364.3L258.4,363.4L258.5,363.4L258.5,362.8L258.6,362.4L258.7,361.1L258.8,361.2L258.9,361.1L259.0,360.6L259.1,360.2L259.1,358.8L259.2,359.1L259.3,358.7L259.4,358.9L259.5,357.4L259.6,357.1L259.7,356.8L259.8,356.5L259.9,355.7L260.0,355.7L260.1,354.7L260.2,354.5L260.3,353.8L260.4,353.6L260.5,352.9L260.6,352.2L260.7,352.5L260.8,351.8L260.9,351.1L261.0,350.9L261.1,350.7L261.2,349.7L261.3,349.5L261.4,349.2L261.5,348.8L261.6,348.1L261.7,347.1L261.9,347.7L262.0,347.0L262.1,346.4L262.2,345.9L262.3,345.6L262.4,345.0L262.5,344.4L262.6,344.1L262.8,343.7L262.9,343.3L263.0,342.6L263.1,342.7L263.2,341.7L263.4,341.8L263.5,340.8L263.6,340.8L263.7,340.6L263.8,339.8L263.9,339.1L264.1,338.9L264.2,338.5L264.3,337.5L264.4,337.4L264.6,337.2L264.7,336.6L264.8,336.3L265.0,336.1L265.1,335.7L265.3,335.3L265.5,334.8L265.6,334.0L265.8,333.7L266.0,333.1L266.2,332.7L266.5,332.3L266.7,331.4L266.9,331.3L267.1,331.0L267.3,330.3L267.6,330.1L267.8,329.9L268.0,329.3L268.2,329.6L268.4,327.8L268.7,328.1L268.9,327.3L269.2,327.7L269.4,327.7L269.7,325.8L270.0,326.1L270.3,325.9L270.5,325.2L270.8,325.1L271.1,323.9L271.4,324.5L271.6,324.0L271.9,323.6L272.2,323.1L272.5,323.2L272.9,322.5L273.3,322.4L273.7,321.8L274.1,321.0L274.5,321.4L274.9,321.3L275.3,321.2L275.7,320.5L276.1,320.6L276.5,320.6L277.0,320.3L277.4,320.5L277.9,320.7L278.3,319.7L278.8,319.4L279.2,320.2L279.7,320.4L280.1,320.2L280.6,320.2L281.0,319.8L281.5,319.9L281.9,320.5L282.4,320.1L282.8,320.1L283.3,320.6L283.7,321.8L284.0,321.9L284.4,321.4L284.7,321.7L285.1,322.3L285.5,322.4L285.8,323.3L286.2,323.3L286.5,323.5L286.9,324.6L287.1,324.4L287.4,324.9L287.6,325.2L287.9,325.5L288.1,326.0L288.4,326.1L288.6,326.2L288.9,326.5L289.1,327.2L289.3,327.7L289.6,328.4L289.8,328.9L290.1,329.5L290.3,329.8L290.5,330.0L290.7,330.4L290.9,330.4L291.0,331.4L291.2,332.0L291.4,332.4L291.6,332.6L291.7,333.1L291.9,333.8L292.1,334.0L292.2,334.7L292.4,335.1L292.6,335.4L292.7,336.2L292.9,336.1L293.0,336.7L293.2,337.0L293.3,337.5L293.5,338.6L293.6,339.2L293.8,339.1L293.9,339.6L294.0,340.2L294.1,340.6L294.2,341.1L294.3,340.8L294.5,341.4L294.6,342.1L294.7,342.9L294.8,342.9L294.9,343.1L295.0,343.6L295.1,344.0L295.2,344.4L295.3,345.5L295.4,345.3L295.5,346.0L295.6,347.1L295.7,347.2L295.8,347.4L295.9,347.6L296.0,348.4L296.1,349.2L296.2,349.3L296.3,350.0L296.4,350.0L296.6,350.6L296.7,350.9L296.8,351.5L296.9,352.2L297.0,351.9L297.1,352.7L297.2,353.3L297.3,353.5L297.4,354.0L297.5,354.8L297.6,355.7L297.7,355.7L297.8,356.1L297.9,356.0L298.0,357.5L298.1,357.4L298.2,357.8L298.3,357.9L298.4,358.6L298.4,358.8L298.5,359.6L298.6,360.2L298.7,360.6L298.8,361.1L298.9,361.3L299.0,362.4L299.1,362.3L299.1,362.4L299.2,363.4L299.3,363.7L299.4,364.0L299.4,364.7L299.5,365.4L299.6,365.4L299.7,366.1L299.7,367.0L299.8,367.2L299.9,367.4L300.0,367.9L300.0,368.3L300.1,368.7L300.2,369.4L300.3,369.7L300.4,369.5L300.5,370.7L300.6,370.9L300.7,371.8L300.8,371.9L300.9,372.6L301.0,373.6L301.1,373.1L301.2,373.5L301.3,373.8L301.4,374.0L301.5,374.5L301.7,375.6L301.8,375.7L302.0,375.8L302.2,376.4L302.4,377.4L302.6,377.5L302.8,378.1L303.0,378.7L303.2,379.5L303.4,380.1L303.7,380.2L303.9,380.3L304.1,380.7L304.3,381.6L304.5,381.8L304.7,381.6L304.9,382.1L305.4,382.6L305.9,382.9L306.3,383.0L306.7,383.0L307.1,383.4L307.3,383.7" fill="none" stroke="#2277b8" stroke-width="1.1" stroke-linejoin="round" stroke-linecap="round"/>
<path d="M247.2,383.7L247.5,383.1L247.8,383.7L248.3,383.5L248.7,382.8L249.2,383.4L249.7,383.0L250.2,381.9L250.7,382.8L251.2,382.3L251.7,382.4L252.0,381.1L252.4,381.3L252.7,380.9L253.1,380.5L253.4,380.1L253.7,380.0L253.9,378.9L254.2,378.5L254.5,378.1L254.7,377.9L254.9,377.4L255.2,377.2L255.3,376.8L255.5,376.4L255.7,375.8L255.8,375.4L256.0,375.4L256.1,374.9L256.2,374.3L256.4,373.8L256.5,373.9L256.6,372.8L256.7,372.7L256.8,372.4L257.0,371.5L257.1,371.4L257.2,370.4L257.3,370.6L257.4,369.9L257.5,368.9L257.6,369.2L257.7,368.3L257.8,368.5L257.9,367.4L258.0,367.1L258.1,366.8L258.2,366.2L258.3,365.9L258.4,365.2L258.5,365.1L258.7,364.4L258.8,364.0L258.9,362.7L259.0,363.4L259.1,362.6L259.2,361.6L259.3,361.8L259.4,361.4L259.5,361.2L259.6,360.1L259.8,360.4L259.9,359.4L260.0,359.7L260.1,358.5L260.2,358.3L260.3,357.5L260.5,356.9L260.6,357.1L260.7,356.6L260.8,356.4L260.9,355.7L261.1,354.8L261.2,354.0L261.4,353.9L261.5,353.4L261.7,352.9L261.8,352.9L261.9,352.3L262.1,351.7L262.2,351.4L262.4,350.9L262.5,350.5L262.7,350.3L262.8,349.9L263.0,349.0L263.2,348.3L263.3,348.7L263.5,347.9L263.7,347.7L263.8,346.5L264.0,346.4L264.2,346.1L264.4,345.2L264.6,345.1L264.7,345.0L264.9,344.7L265.1,344.4L265.3,343.3L265.5,342.7L265.7,342.8L265.9,342.5L266.1,341.9L266.3,341.1L266.5,341.3L266.7,340.9L266.9,340.3L267.2,339.6L267.4,339.4L267.6,339.1L267.9,338.3L268.1,337.5L268.4,337.7L268.6,337.4L268.9,336.8L269.1,336.7L269.3,335.9L269.6,335.7L269.8,335.3L270.1,335.2L270.4,335.1L270.7,334.1L271.1,334.5L271.4,333.9L271.7,333.4L272.0,333.0L272.4,333.1L272.7,332.2L273.0,331.9L273.4,331.4L273.7,331.6L274.1,331.6L274.5,331.0L274.9,330.8L275.3,330.3L275.7,330.2L276.1,329.6L276.5,330.1L276.9,329.5L277.3,329.2L277.7,329.1L278.2,329.0L278.6,329.4L279.1,329.4L279.5,328.6L280.0,329.2L280.4,329.2L280.9,328.9L281.3,328.7L281.7,329.0L282.1,329.2L282.5,329.7L282.9,329.7L283.3,329.5L283.7,330.4L284.1,330.2L284.5,331.2L284.8,330.9L285.1,331.3L285.4,331.5L285.7,331.9L286.0,332.8L286.3,333.0L286.6,333.3L286.9,333.6L287.2,333.4L287.5,334.1L287.8,334.5L288.1,334.8L288.3,335.5L288.5,335.5L288.8,335.9L289.0,336.2L289.2,336.2L289.4,337.4L289.6,338.1L289.8,338.1L290.0,338.2L290.2,338.1L290.4,339.4L290.6,340.1L290.8,340.3L291.0,340.9L291.2,341.5L291.4,341.8L291.6,341.7L291.8,342.5L291.9,342.9L292.1,342.6L292.3,343.3L292.4,343.4L292.6,344.2L292.8,344.8L292.9,344.7L293.1,344.9L293.3,346.3L293.4,346.5L293.6,347.3L293.8,346.9L293.9,348.1L294.1,348.9L294.2,349.3L294.4,349.0L294.5,349.5L294.6,349.8L294.8,350.6L294.9,351.0L295.0,351.2L295.2,351.2L295.3,352.3L295.5,352.3L295.6,353.1L295.7,353.5L295.9,354.3L296.0,354.6L296.1,354.6L296.2,355.3L296.4,356.2L296.5,355.9L296.6,356.7L296.8,357.4L296.9,357.8L297.0,358.0L297.1,357.9L297.2,358.4L297.4,359.3L297.5,359.8L297.6,360.9L297.7,360.3L297.8,361.4L297.9,361.7L298.0,361.4L298.2,362.1L298.3,362.9L298.4,363.1L298.5,363.7L298.6,364.3L298.7,364.4L298.8,365.2L298.9,365.3L299.0,365.7L299.1,366.5L299.2,366.5L299.3,367.2L299.4,368.0L299.5,368.0L299.7,368.5L299.8,369.2L299.9,369.4L300.0,370.3L300.1,370.0L300.2,371.1L300.3,371.2L300.4,371.5L300.5,372.7L300.6,372.4L300.7,373.6L300.9,373.7L301.0,374.3L301.2,374.0L301.3,375.1L301.5,375.6L301.7,375.6L301.9,376.0L302.1,377.2L302.4,377.0L302.6,377.2L302.8,377.6L303.1,378.3L303.3,378.7L303.6,379.0L303.8,379.9L304.1,379.6L304.4,380.2L304.7,380.8L304.9,380.4L305.3,381.4L305.7,382.0L306.2,381.3L306.6,381.7L307.1,382.0L307.6,382.0L308.0,383.0L308.4,382.5L308.8,383.4L309.2,383.7L309.5,383.1L309.7,383.7" fill="none" stroke="#ad2170" stroke-width="1.35" stroke-linejoin="round" stroke-linecap="round"/>
<path d="M236.4,383.7L236.7,383.5L237.0,382.9L237.3,383.5L237.7,382.9L238.1,382.8L238.6,382.7L239.1,382.6L239.5,382.1L240.0,382.0L240.5,381.5L241.0,381.5L241.5,380.9L242.0,381.0L242.4,380.1L242.8,380.4L243.2,380.8L243.6,380.1L244.0,379.4L244.4,379.6L244.8,379.0L245.2,378.5L245.6,378.6L246.0,378.8L246.4,378.4L246.8,378.0L247.2,377.5L247.6,377.2L248.0,377.7L248.4,377.2L248.9,376.6L249.3,376.0L249.8,376.0L250.3,377.0L250.7,375.7L251.2,375.8L251.6,375.7L252.1,375.4L252.5,375.2L253.0,374.6L253.4,374.5L253.8,375.2L254.1,374.2L254.5,374.5L254.9,373.4L255.3,373.5L255.7,373.4L256.0,373.4L256.2,372.5L256.5,372.6L256.8,372.2L257.0,371.4L257.3,371.2L257.5,370.5L257.7,370.2L257.8,370.1L258.0,368.9L258.1,369.3L258.3,368.6L258.4,368.0L258.6,367.9L258.7,367.8L258.9,366.9L259.0,367.0L259.2,365.8L259.3,365.3L259.5,365.7L259.6,364.9L259.8,364.6L260.0,363.6L260.2,363.7L260.3,363.1L260.5,362.8L260.7,362.2L260.9,362.1L261.1,361.1L261.3,360.6L261.5,360.0L261.7,360.3L261.9,359.3L262.1,358.8L262.3,358.4L262.5,358.2L262.7,357.5L262.9,357.4L263.1,356.9L263.3,356.5L263.6,356.0L263.8,355.9L264.1,355.3L264.3,355.1L264.6,354.8L264.9,354.4L265.1,353.2L265.4,353.4L265.7,352.9L266.0,353.0L266.3,351.9L266.5,351.8L266.8,351.6L267.1,351.3L267.4,351.3L267.7,350.5L268.0,350.6L268.3,349.5L268.6,349.1L268.9,349.6L269.2,349.0L269.6,348.7L269.9,348.3L270.2,348.1L270.5,347.2L270.9,347.6L271.2,346.8L271.5,347.0L271.8,346.4L272.2,345.5L272.5,345.5L272.9,345.9L273.3,345.2L273.7,344.8L274.1,344.7L274.5,344.2L274.9,343.9L275.3,343.9L275.7,343.6L276.1,343.8L276.5,343.1L276.9,343.5L277.3,343.3L277.7,343.1L278.2,342.7L278.6,342.2L279.1,342.1L279.5,341.9L280.0,341.6L280.4,341.7L280.9,341.4L281.3,342.1L281.7,341.7L282.1,341.4L282.6,341.0L283.1,341.7L283.5,341.7L284.0,341.7L284.4,341.9L284.8,341.8L285.3,342.9L285.7,343.0L286.1,344.0L286.4,343.4L286.8,343.6L287.1,344.3L287.5,344.2L287.9,344.5L288.2,344.6L288.6,344.9L288.9,345.9L289.3,346.2L289.5,346.7L289.8,346.4L290.0,346.9L290.3,346.9L290.5,347.9L290.8,347.6L291.0,348.6L291.3,349.1L291.5,349.7L291.7,349.4L292.0,350.4L292.2,350.3L292.5,350.8L292.7,351.0L292.9,352.2L293.1,352.8L293.3,352.5L293.5,352.8L293.7,353.4L293.9,354.7L294.1,354.6L294.3,354.6L294.5,354.7L294.6,355.4L294.8,356.4L295.0,357.1L295.2,356.8L295.4,357.2L295.5,357.6L295.7,357.7L295.9,358.9L296.0,358.8L296.2,359.9L296.4,359.5L296.5,360.1L296.7,361.0L296.8,361.1L297.0,362.0L297.1,362.2L297.3,362.3L297.4,363.3L297.6,363.8L297.7,363.5L297.9,365.0L298.0,365.1L298.1,365.6L298.3,365.3L298.4,366.1L298.6,366.7L298.7,367.6L298.9,367.3L299.0,367.9L299.1,368.1L299.3,369.1L299.4,369.8L299.5,369.7L299.7,370.5L299.8,371.3L300.0,372.0L300.1,372.2L300.3,372.3L300.5,372.5L300.6,372.9L300.8,373.3L301.1,374.0L301.5,374.3L301.8,375.2L302.1,375.0L302.5,374.9L302.9,375.9L303.2,375.9L303.6,375.9L304.0,375.9L304.5,375.8L304.9,376.3L305.3,377.1L305.6,376.8L306.0,376.9L306.4,377.6L306.7,377.8L307.1,378.1L307.5,378.4L307.9,378.8L308.4,378.4L308.8,379.1L309.2,378.8L309.6,379.5L310.1,379.6L310.5,379.8L310.9,380.3L311.3,380.2L311.7,380.8L312.2,380.9L312.6,380.9L313.1,380.9L313.5,381.1L314.0,381.4L314.5,381.8L314.9,382.1L315.4,383.2L315.8,382.7L316.2,383.0L316.6,382.7L317.0,382.9L317.4,383.2L317.7,383.5L317.9,383.3L318.2,383.7" fill="none" stroke="#70ad64" stroke-width="1.5" stroke-linejoin="round" stroke-linecap="round"/>
<line x1="227.85" y1="309.0" x2="227.85" y2="384.79999999999995" stroke="#111" stroke-width="1.5"/>
<line x1="227.1" y1="384.25" x2="341.2" y2="384.25" stroke="#111" stroke-width="1.15"/>
<text x="225.0" y="319.6" font-size="8.8" text-anchor="end" textLength="12.6" lengthAdjust="spacingAndGlyphs" fill="#000" stroke="#000" stroke-width="0.16">100</text>
<text x="225.0" y="333.15000000000003" font-size="8.8" text-anchor="end" textLength="8.5" lengthAdjust="spacingAndGlyphs" fill="#000" stroke="#000" stroke-width="0.16">80</text>
<text x="225.0" y="346.7" font-size="8.8" text-anchor="end" textLength="8.5" lengthAdjust="spacingAndGlyphs" fill="#000" stroke="#000" stroke-width="0.16">60</text>
<text x="225.0" y="360.25" font-size="8.8" text-anchor="end" textLength="8.5" lengthAdjust="spacingAndGlyphs" fill="#000" stroke="#000" stroke-width="0.16">40</text>
<text x="225.0" y="373.8" font-size="8.8" text-anchor="end" textLength="8.5" lengthAdjust="spacingAndGlyphs" fill="#000" stroke="#000" stroke-width="0.16">20</text>
<text x="225.0" y="387.3" font-size="8.8" text-anchor="end" textLength="4.3" lengthAdjust="spacingAndGlyphs" fill="#000" stroke="#000" stroke-width="0.16">0</text>
<text x="228.2" y="394.6" font-size="8.8" text-anchor="middle" textLength="4.3" lengthAdjust="spacingAndGlyphs" fill="#000" stroke="#000" stroke-width="0.16">0</text>
<text x="282.8" y="394.6" font-size="8.8" text-anchor="middle" textLength="12.8" lengthAdjust="spacingAndGlyphs" fill="#000" stroke="#000" stroke-width="0.16">480</text>
<text x="337.5" y="394.6" font-size="8.8" text-anchor="middle" textLength="12.8" lengthAdjust="spacingAndGlyphs" fill="#000" stroke="#000" stroke-width="0.16">960</text>
<text x="255.60000000000002" y="407.6" font-size="9.9" textLength="57.4" lengthAdjust="spacingAndGlyphs" fill="#000" stroke="#000" stroke-width="0.16">Distance (µm)</text>
<text x="206.3" y="347.1" font-size="9.7" text-anchor="middle" textLength="90.4" lengthAdjust="spacingAndGlyphs" transform="rotate(-90 206.3 347.1)" fill="#000" stroke="#000" stroke-width="0.16">Pixel intensity (% Max)</text>
<line x1="298.4" y1="312.5" x2="309.0" y2="312.5" stroke="#2277b8" stroke-width="1.5"/>
<text x="333.7" y="315.2" font-size="8.3" text-anchor="end" textLength="17.8" lengthAdjust="spacingAndGlyphs" fill="#000" stroke="#000" stroke-width="0.16">0 min</text>
<line x1="298.4" y1="321.4" x2="309.0" y2="321.4" stroke="#ad2170" stroke-width="1.5"/>
<text x="333.7" y="324.09999999999997" font-size="8.3" text-anchor="end" textLength="17.4" lengthAdjust="spacingAndGlyphs" fill="#000" stroke="#000" stroke-width="0.16">5 min</text>
<line x1="298.4" y1="330.1" x2="309.0" y2="330.1" stroke="#70ad64" stroke-width="1.7"/>
<text x="333.7" y="332.8" font-size="8.3" text-anchor="end" textLength="21.0" lengthAdjust="spacingAndGlyphs" fill="#000" stroke="#000" stroke-width="0.16">15 min</text>
</g>
<g>
<path d="M423.1,383.7L423.1,383.5L423.2,383.2L423.2,382.9L423.3,382.5L423.4,382.2L423.5,381.8L423.6,381.3L423.7,380.9L423.8,380.4L423.9,380.0L424.0,379.5L424.1,379.0L424.2,378.4L424.3,377.9L424.4,377.4L424.5,376.8L424.6,376.3L424.8,375.8L424.9,375.2L425.0,374.7L425.1,374.3L425.1,373.9L425.2,373.5L425.3,373.1L425.4,372.7L425.5,372.2L425.6,371.8L425.6,371.4L425.7,370.9L425.8,370.5L425.9,370.0L426.0,369.6L426.1,369.1L426.2,368.7L426.3,368.2L426.3,367.7L426.4,367.3L426.5,366.8L426.6,366.3L426.7,365.9L426.8,365.4L426.9,365.0L427.0,364.5L427.1,364.0L427.2,363.6L427.3,363.1L427.4,362.7L427.5,362.2L427.6,361.8L427.7,361.4L427.8,360.9L427.9,360.4L428.0,360.0L428.1,359.5L428.2,359.1L428.3,358.6L428.4,358.2L428.5,357.7L428.6,357.3L428.7,356.8L428.8,356.4L428.9,355.9L429.0,355.5L429.1,355.0L429.2,354.6L429.3,354.1L429.5,353.7L429.6,353.3L429.7,352.8L429.8,352.4L429.9,352.0L430.0,351.5L430.1,351.1L430.3,350.7L430.4,350.2L430.5,349.8L430.7,349.3L430.8,348.8L430.9,348.4L431.1,347.9L431.2,347.5L431.4,347.0L431.5,346.6L431.7,346.1L431.8,345.7L432.0,345.3L432.1,344.8L432.2,344.4L432.4,344.0L432.5,343.5L432.7,343.1L432.8,342.7L433.0,342.3L433.1,341.8L433.3,341.4L433.4,341.0L433.6,340.6L433.7,340.2L433.9,339.9L434.1,339.4L434.2,338.9L434.4,338.4L434.6,338.0L434.8,337.5L435.0,337.1L435.1,336.6L435.3,336.2L435.5,335.7L435.7,335.3L435.9,334.9L436.0,334.5L436.2,334.1L436.4,333.7L436.6,333.3L436.8,332.9L436.9,332.5L437.1,332.1L437.3,331.8L437.5,331.4L437.7,331.0L438.0,330.5L438.2,330.1L438.5,329.7L438.7,329.3L439.0,328.9L439.2,328.5L439.5,328.2L439.7,327.8L440.0,327.5L440.2,327.2L440.5,326.8L440.8,326.5L441.1,326.2L441.4,325.8L441.7,325.5L442.0,325.1L442.4,324.8L442.7,324.4L443.1,324.1L443.4,323.8L443.8,323.5L444.1,323.2L444.5,322.9L444.8,322.6L445.2,322.3L445.5,322.1L445.9,321.8L446.3,321.5L446.8,321.3L447.2,321.0L447.6,320.8L448.1,320.6L448.5,320.4L449.0,320.2L449.4,320.1L449.8,320.0L450.3,319.9L450.7,319.9L451.1,319.9L451.6,320.0L452.0,320.1L452.5,320.2L452.9,320.4L453.3,320.6L453.8,320.8L454.2,321.0L454.6,321.3L455.1,321.5L455.5,321.8L455.9,322.1L456.2,322.3L456.6,322.6L456.9,322.9L457.3,323.2L457.6,323.5L458.0,323.8L458.3,324.1L458.7,324.4L459.0,324.8L459.4,325.1L459.7,325.5L460.0,325.8L460.3,326.2L460.6,326.5L460.9,326.8L461.2,327.2L461.4,327.5L461.7,327.8L461.9,328.2L462.2,328.5L462.4,328.9L462.7,329.3L462.9,329.7L463.2,330.1L463.4,330.5L463.7,331.0L463.9,331.4L464.1,331.8L464.3,332.1L464.5,332.5L464.6,332.9L464.8,333.3L465.0,333.7L465.2,334.1L465.4,334.5L465.5,334.9L465.7,335.3L465.9,335.7L466.1,336.2L466.3,336.6L466.4,337.1L466.6,337.5L466.8,338.0L467.0,338.4L467.2,338.9L467.3,339.4L467.5,339.9L467.7,340.2L467.8,340.6L468.0,341.0L468.1,341.4L468.3,341.8L468.4,342.3L468.5,342.7L468.7,343.1L468.8,343.5L469.0,344.0L469.1,344.4L469.3,344.8L469.4,345.3L469.5,345.7L469.7,346.1L469.8,346.6L470.0,347.0L470.1,347.5L470.3,347.9L470.4,348.4L470.6,348.8L470.7,349.3L470.8,349.8L471.0,350.2L471.1,350.7L471.3,351.1L471.4,351.5L471.5,352.0L471.7,352.4L471.8,352.8L471.9,353.3L472.1,353.7L472.2,354.1L472.4,354.6L472.5,355.0L472.6,355.5L472.8,355.9L472.9,356.4L473.0,356.8L473.2,357.3L473.3,357.7L473.4,358.2L473.6,358.6L473.7,359.1L473.8,359.5L474.0,360.0L474.1,360.4L474.2,360.9L474.4,361.4L474.5,361.8L474.6,362.2L474.7,362.7L474.9,363.1L475.0,363.6L475.1,364.0L475.2,364.5L475.4,365.0L475.5,365.4L475.6,365.9L475.7,366.3L475.8,366.8L475.9,367.3L476.1,367.7L476.2,368.2L476.3,368.7L476.4,369.1L476.5,369.6L476.6,370.0L476.7,370.5L476.9,370.9L477.0,371.4L477.1,371.8L477.2,372.2L477.3,372.7L477.4,373.1L477.5,373.5L477.6,373.9L477.8,374.3L477.9,374.7L478.0,375.2L478.2,375.8L478.3,376.3L478.5,376.8L478.7,377.4L478.8,377.9L479.0,378.4L479.2,379.0L479.3,379.5L479.5,380.0L479.7,380.4L479.8,380.9L480.0,381.3L480.1,381.8L480.2,382.2L480.4,382.5L480.5,382.9L480.6,383.2L480.7,383.5L480.8,383.7" fill="none" stroke="#2277b8" stroke-width="0.95" stroke-linejoin="round" stroke-linecap="round"/>
<path d="M406.2,383.7L406.5,383.7L406.8,383.1L407.1,383.7L407.5,381.9L407.9,382.7L408.3,382.6L408.8,382.3L409.3,382.2L409.7,381.7L410.2,381.4L410.6,380.2L411.0,380.4L411.4,379.4L411.7,380.5L412.1,380.1L412.4,379.6L412.8,379.1L413.1,378.9L413.4,379.7L413.8,379.4L414.1,378.3L414.5,378.6L414.8,377.0L415.2,376.5L415.5,376.8L415.8,376.2L416.1,376.1L416.4,376.1L416.7,377.0L416.9,375.1L417.2,375.0L417.5,374.8L417.8,374.3L418.0,374.3L418.3,374.3L418.6,372.6L418.9,372.8L419.1,372.3L419.4,372.1L419.7,370.9L419.9,370.4L420.2,369.7L420.4,370.6L420.7,370.0L420.9,369.6L421.1,368.1L421.3,368.6L421.5,368.0L421.6,367.3L421.8,367.1L422.0,367.4L422.2,367.0L422.4,366.3L422.5,366.1L422.7,365.2L422.9,365.1L423.0,364.6L423.2,364.4L423.4,363.7L423.6,363.2L423.7,362.8L423.9,362.1L424.1,362.9L424.3,361.7L424.4,361.3L424.6,361.7L424.8,360.9L424.9,359.1L425.1,359.7L425.2,359.3L425.4,359.4L425.6,358.7L425.7,358.0L425.9,356.7L426.1,356.4L426.2,356.4L426.4,356.1L426.6,355.0L426.7,354.8L426.9,354.3L427.0,354.1L427.2,353.8L427.4,353.1L427.5,352.2L427.7,352.9L427.9,352.6L428.0,351.4L428.2,351.5L428.4,350.8L428.5,350.4L428.7,349.9L428.8,348.9L429.0,349.0L429.2,348.8L429.3,347.5L429.5,348.3L429.7,347.9L429.8,347.4L430.0,347.0L430.2,346.0L430.3,345.1L430.5,344.5L430.7,344.0L430.8,344.0L431.0,343.5L431.1,343.4L431.3,341.8L431.5,343.3L431.7,342.8L431.8,341.3L432.0,341.2L432.2,340.7L432.4,340.1L432.6,339.5L432.7,339.1L432.9,338.3L433.1,338.3L433.3,337.8L433.5,337.5L433.6,336.6L433.8,336.6L434.0,336.2L434.2,336.0L434.4,334.9L434.5,335.2L434.7,335.0L434.9,334.5L435.1,333.7L435.3,333.2L435.5,332.8L435.8,332.8L436.0,332.7L436.2,331.5L436.5,330.9L436.7,331.0L436.9,330.5L437.2,329.6L437.4,329.3L437.6,329.2L437.9,329.2L438.1,328.0L438.4,327.7L438.7,328.1L439.0,326.9L439.3,327.2L439.6,326.9L439.9,326.3L440.2,325.6L440.5,325.7L440.8,325.2L441.2,325.2L441.5,324.3L441.8,324.9L442.2,323.3L442.5,323.7L442.8,323.5L443.2,323.7L443.5,322.8L443.9,323.0L444.4,322.2L444.8,322.5L445.3,322.8L445.7,321.6L446.2,321.8L446.6,321.0L447.1,321.7L447.5,321.7L447.9,321.0L448.3,320.4L448.8,320.9L449.3,321.1L449.7,321.0L450.1,320.8L450.5,319.5L450.9,320.0L451.4,321.0L451.9,319.8L452.3,320.9L452.7,321.3L453.1,320.9L453.6,321.1L454.0,320.6L454.5,320.3L454.9,320.9L455.4,321.0L455.8,321.3L456.3,321.9L456.7,321.8L457.0,322.1L457.4,322.5L457.7,322.6L458.0,323.7L458.4,323.3L458.7,323.5L459.0,323.7L459.4,323.8L459.7,325.1L460.0,324.9L460.3,324.7L460.6,325.3L460.9,325.8L461.2,326.1L461.5,327.1L461.8,326.5L462.1,327.6L462.3,327.8L462.6,327.6L462.8,328.5L463.0,328.8L463.3,329.4L463.5,329.4L463.7,330.1L464.0,329.7L464.2,330.4L464.4,331.6L464.7,332.2L464.9,332.2L465.1,332.4L465.3,333.5L465.5,332.4L465.7,333.4L465.8,334.5L466.0,334.9L466.2,334.5L466.4,334.6L466.6,336.5L466.7,336.3L466.9,336.3L467.1,337.2L467.3,338.0L467.5,336.9L467.6,339.0L467.8,339.2L468.0,338.4L468.2,340.1L468.4,339.4L468.6,341.1L468.7,341.2L468.9,342.5L469.1,341.6L469.3,342.3L469.5,343.2L469.6,342.8L469.8,343.2L470.0,343.8L470.2,344.3L470.4,344.3L470.5,345.4L470.7,345.8L470.9,346.1L471.1,347.2L471.3,346.7L471.4,347.9L471.6,347.5L471.8,348.5L472.0,347.7L472.2,349.1L472.3,349.4L472.5,349.7L472.7,350.0L472.8,350.6L473.0,350.8L473.2,350.6L473.3,351.7L473.5,352.2L473.6,352.6L473.8,352.8L474.0,353.7L474.1,354.6L474.3,354.5L474.5,354.9L474.6,356.2L474.8,356.4L475.0,356.8L475.1,357.4L475.3,357.2L475.5,357.7L475.6,358.7L475.8,358.4L475.9,359.0L476.1,359.7L476.3,360.1L476.4,360.3L476.6,361.3L476.8,361.2L476.9,362.1L477.1,362.7L477.3,362.9L477.4,363.4L477.6,363.0L477.8,363.4L477.9,364.1L478.1,365.1L478.3,366.0L478.4,365.2L478.6,366.3L478.8,366.2L478.9,366.7L479.1,367.3L479.2,368.2L479.4,368.4L479.5,369.2L479.7,368.7L479.9,370.0L480.1,370.5L480.2,370.6L480.4,371.3L480.6,371.3L480.7,371.5L480.9,372.2L481.1,372.6L481.2,374.6L481.4,373.5L481.6,374.9L481.7,374.7L481.9,375.2L482.0,375.8L482.2,375.6L482.4,376.7L482.5,376.9L482.7,376.4L482.9,377.9L483.1,378.4L483.3,378.9L483.5,379.9L483.8,379.5L484.0,380.4L484.2,381.0L484.4,380.8L484.6,382.2L484.8,381.4L485.0,381.9L485.2,383.1L485.3,382.7L485.4,383.4L485.6,383.7" fill="none" stroke="#ad2170" stroke-width="1.35" stroke-linejoin="round" stroke-linecap="round"/>
<path d="M395.4,383.7L395.6,382.8L395.8,383.3L396.1,382.6L396.4,383.0L396.7,381.8L397.1,382.4L397.5,381.8L397.8,381.6L398.2,381.2L398.6,380.9L399.1,379.9L399.5,379.0L399.9,379.8L400.3,379.0L400.7,378.8L401.1,378.9L401.4,377.4L401.8,377.7L402.1,377.4L402.4,376.9L402.8,377.2L403.1,376.6L403.4,376.0L403.8,375.6L404.1,376.1L404.4,375.1L404.8,375.3L405.1,374.9L405.4,373.5L405.8,373.5L406.1,373.7L406.4,373.5L406.8,373.3L407.1,373.0L407.4,372.8L407.8,371.8L408.1,371.5L408.4,371.6L408.8,370.8L409.1,371.1L409.4,369.5L409.8,370.2L410.1,369.5L410.4,368.3L410.8,369.3L411.1,368.7L411.4,368.2L411.8,367.4L412.1,367.3L412.4,367.9L412.8,366.5L413.1,365.0L413.4,365.9L413.8,365.4L414.2,365.6L414.5,365.2L414.9,364.7L415.2,364.5L415.6,365.1L416.0,363.7L416.3,365.0L416.7,363.6L417.1,363.1L417.4,363.7L417.8,363.3L418.1,362.3L418.5,362.8L418.8,361.3L419.1,361.4L419.5,362.0L419.7,361.1L420.0,360.3L420.3,360.7L420.5,360.6L420.8,359.8L421.1,358.6L421.3,358.9L421.6,358.9L421.8,358.6L422.1,358.7L422.3,357.4L422.5,356.9L422.8,356.7L423.0,356.9L423.3,355.5L423.5,356.1L423.8,353.9L424.0,355.0L424.3,354.0L424.5,354.1L424.7,353.8L424.9,352.6L425.2,352.7L425.4,352.4L425.6,352.2L425.9,351.1L426.1,350.7L426.3,349.8L426.5,351.4L426.8,349.8L427.0,349.4L427.2,348.4L427.5,349.0L427.7,348.0L427.9,348.5L428.2,347.8L428.4,347.0L428.6,347.0L428.8,345.7L429.1,345.7L429.3,345.2L429.6,344.5L429.8,344.7L430.1,344.2L430.3,344.5L430.6,341.9L430.8,342.8L431.1,342.3L431.3,342.1L431.6,342.1L431.9,341.7L432.1,341.2L432.4,340.6L432.6,340.7L432.9,340.2L433.1,338.9L433.4,339.2L433.6,338.4L433.9,338.1L434.2,338.3L434.4,337.9L434.7,337.5L435.0,336.7L435.3,336.6L435.6,335.9L435.9,336.1L436.1,335.9L436.4,336.0L436.7,335.5L437.0,334.2L437.3,334.0L437.6,333.4L437.8,333.7L438.1,334.1L438.4,333.3L438.7,331.7L439.1,331.7L439.4,331.4L439.8,331.8L440.2,331.3L440.5,331.1L440.9,331.5L441.3,330.0L441.6,329.8L442.0,330.8L442.4,329.8L442.8,329.1L443.1,328.3L443.5,328.4L443.9,327.7L444.4,328.7L444.8,328.5L445.2,328.8L445.7,328.2L446.1,327.9L446.5,327.8L447.0,328.9L447.4,327.2L447.9,328.0L448.3,327.8L448.8,328.0L449.3,327.5L449.7,327.9L450.2,328.0L450.7,327.5L451.2,327.3L451.7,327.4L452.1,327.1L452.6,327.5L453.1,327.5L453.5,327.8L454.0,328.3L454.4,328.4L454.9,327.7L455.3,328.3L455.7,328.3L456.2,328.6L456.6,328.5L457.0,328.7L457.5,328.6L457.9,328.7L458.3,329.6L458.7,330.0L459.0,329.9L459.4,330.1L459.8,330.2L460.1,330.1L460.5,329.8L460.9,331.2L461.2,331.3L461.6,331.3L462.0,331.4L462.4,332.8L462.7,331.8L463.0,333.7L463.2,333.5L463.5,334.6L463.7,333.6L464.0,334.2L464.2,334.4L464.5,335.1L464.7,335.3L465.0,335.4L465.3,336.6L465.5,336.2L465.8,336.7L466.0,337.6L466.3,337.5L466.5,338.0L466.8,338.8L467.0,338.9L467.3,338.9L467.5,339.8L467.8,340.1L468.0,341.4L468.2,340.5L468.4,341.8L468.7,341.4L468.9,342.0L469.1,342.4L469.4,343.1L469.6,343.8L469.8,344.6L470.0,343.9L470.3,345.2L470.5,345.5L470.7,345.8L471.0,345.5L471.2,346.6L471.4,346.6L471.6,347.2L471.9,347.3L472.1,348.2L472.3,348.8L472.6,349.2L472.8,349.0L473.0,349.9L473.3,350.5L473.5,349.9L473.7,351.3L473.9,350.5L474.2,351.7L474.4,352.1L474.6,352.9L474.9,352.8L475.1,352.9L475.3,353.1L475.5,353.3L475.8,354.6L476.0,354.6L476.2,354.8L476.5,355.7L476.7,355.5L476.9,356.1L477.1,356.5L477.4,357.8L477.6,358.1L477.8,357.8L478.1,357.6L478.3,358.8L478.5,359.2L478.7,359.7L479.0,360.2L479.2,360.2L479.4,361.2L479.7,361.5L479.9,361.7L480.1,361.8L480.3,362.2L480.6,363.1L480.8,362.7L481.0,363.5L481.3,363.6L481.5,363.7L481.7,365.0L482.0,365.1L482.2,365.5L482.5,366.3L482.7,365.6L483.0,366.7L483.2,367.2L483.5,367.9L483.7,367.4L484.0,368.6L484.2,368.8L484.5,369.7L484.7,369.9L485.0,370.0L485.2,371.1L485.5,370.5L485.7,370.7L486.0,371.1L486.3,371.2L486.5,371.9L486.8,371.5L487.0,372.7L487.3,373.3L487.6,373.9L487.9,373.7L488.2,374.8L488.5,374.2L488.7,374.8L489.0,374.4L489.3,375.3L489.6,375.6L489.9,376.9L490.2,376.9L490.4,376.5L490.7,377.5L491.0,377.9L491.3,377.9L491.6,378.3L491.9,378.5L492.2,378.8L492.5,378.7L492.9,379.8L493.2,380.8L493.6,381.2L493.9,380.9L494.3,381.1L494.6,381.7L494.9,382.5L495.2,382.6L495.5,382.5L495.8,383.2L496.0,383.2L496.2,383.7L496.4,383.7" fill="none" stroke="#70ad64" stroke-width="1.5" stroke-linejoin="round" stroke-linecap="round"/>
<line x1="393.35" y1="309.0" x2="393.35" y2="384.79999999999995" stroke="#111" stroke-width="1.5"/>
<line x1="392.6" y1="384.25" x2="506.0" y2="384.25" stroke="#111" stroke-width="1.15"/>
<text x="391.5" y="319.6" font-size="8.8" text-anchor="end" textLength="12.6" lengthAdjust="spacingAndGlyphs" fill="#000" stroke="#000" stroke-width="0.16">100</text>
<text x="391.5" y="333.15000000000003" font-size="8.8" text-anchor="end" textLength="8.5" lengthAdjust="spacingAndGlyphs" fill="#000" stroke="#000" stroke-width="0.16">80</text>
<text x="391.5" y="346.7" font-size="8.8" text-anchor="end" textLength="8.5" lengthAdjust="spacingAndGlyphs" fill="#000" stroke="#000" stroke-width="0.16">60</text>
<text x="391.5" y="360.25" font-size="8.8" text-anchor="end" textLength="8.5" lengthAdjust="spacingAndGlyphs" fill="#000" stroke="#000" stroke-width="0.16">40</text>
<text x="391.5" y="373.8" font-size="8.8" text-anchor="end" textLength="8.5" lengthAdjust="spacingAndGlyphs" fill="#000" stroke="#000" stroke-width="0.16">20</text>
<text x="391.5" y="387.3" font-size="8.8" text-anchor="end" textLength="4.3" lengthAdjust="spacingAndGlyphs" fill="#000" stroke="#000" stroke-width="0.16">0</text>
<text x="393.7" y="394.6" font-size="8.8" text-anchor="middle" textLength="4.3" lengthAdjust="spacingAndGlyphs" fill="#000" stroke="#000" stroke-width="0.16">0</text>
<text x="448.3" y="394.6" font-size="8.8" text-anchor="middle" textLength="12.8" lengthAdjust="spacingAndGlyphs" fill="#000" stroke="#000" stroke-width="0.16">480</text>
<text x="503.4" y="394.6" font-size="8.8" text-anchor="middle" textLength="12.8" lengthAdjust="spacingAndGlyphs" fill="#000" stroke="#000" stroke-width="0.16">960</text>
<text x="421.8" y="407.6" font-size="9.9" textLength="57.1" lengthAdjust="spacingAndGlyphs" fill="#000" stroke="#000" stroke-width="0.16">Distance (µm)</text>
<text x="371.8" y="347.1" font-size="9.7" text-anchor="middle" textLength="90.4" lengthAdjust="spacingAndGlyphs" transform="rotate(-90 371.8 347.1)" fill="#000" stroke="#000" stroke-width="0.16">Pixel intensity (% Max)</text>
<line x1="469.2" y1="312.5" x2="479.5" y2="312.5" stroke="#2277b8" stroke-width="1.5"/>
<text x="504.5" y="315.2" font-size="8.3" text-anchor="end" textLength="17.8" lengthAdjust="spacingAndGlyphs" fill="#000" stroke="#000" stroke-width="0.16">0 min</text>
<line x1="469.2" y1="321.4" x2="479.5" y2="321.4" stroke="#ad2170" stroke-width="1.5"/>
<text x="504.5" y="324.09999999999997" font-size="8.3" text-anchor="end" textLength="17.4" lengthAdjust="spacingAndGlyphs" fill="#000" stroke="#000" stroke-width="0.16">5 min</text>
<line x1="469.2" y1="330.1" x2="479.5" y2="330.1" stroke="#70ad64" stroke-width="1.7"/>
<text x="504.5" y="332.8" font-size="8.3" text-anchor="end" textLength="21.0" lengthAdjust="spacingAndGlyphs" fill="#000" stroke="#000" stroke-width="0.16">15 min</text>
</g>
<path d="M0,0 H520 V418 H0 Z M1.2,1.1 V415.9 H518.8 V1.1 Z" fill="#0a0a0a" fill-rule="evenodd"/>
</svg>
</body></html>
